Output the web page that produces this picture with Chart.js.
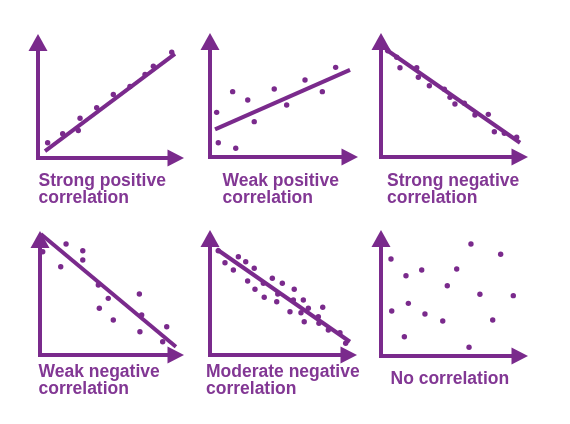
<!DOCTYPE html>
<html>
<head>
<meta charset="utf-8">
<script src="https://cdn.jsdelivr.net/npm/chart.js@4"></script>
<style>
  html, body { margin: 0; padding: 0; background: #fff; }
  #wrap { position: relative; width: 570px; height: 424px; overflow: hidden; background: #fff; }
  canvas { position: absolute; }
  .lbl { position: absolute; font-family: "Liberation Sans", Arial, sans-serif; font-weight: bold;
         font-size: 17.5px; line-height: 17px; color: rgb(130,55,148); white-space: nowrap; }
</style>
</head>
<body>
<div id="wrap"></div>
<script>
// ---- Data (each panel on a 0–10 by 0–10 scale) ----
const titles = [
  ["Strong positive", "correlation"],
  ["Weak positive", "correlation"],
  ["Strong negative", "correlation"],
  ["Weak negative", "correlation"],
  ["Moderate negative", "correlation"],
  ["No correlation"]
];

const strongPosX = [0.66, 1.69, 2.76, 2.88, 4.02, 5.16, 6.30, 7.33, 7.90, 9.16];
const strongPosY = [1.23, 1.95, 2.22, 3.21, 4.05, 5.12, 5.77, 6.73, 7.40, 8.53];
const strongPosLine = [[0.48, 0.55], [9.38, 8.40]];

const weakPosX = [0.45, 1.53, 2.55, 2.99, 0.56, 1.74, 4.34, 5.18, 6.42, 7.59, 8.49];
const weakPosY = [3.60, 5.27, 4.60, 2.85, 1.15, 0.70, 5.48, 4.19, 6.21, 5.27, 7.23];
const weakPosLine = [[0.34, 2.23], [9.46, 7.02]];

const strongNegX = [0.46, 1.07, 1.29, 2.43, 2.54, 3.29, 4.31, 4.69, 5.03, 5.67, 6.39, 7.30, 7.71, 8.39, 9.23];
const strongNegY = [8.57, 8.04, 7.20, 7.20, 6.43, 5.75, 5.46, 4.81, 4.27, 4.33, 3.39, 3.44, 2.04, 1.91, 1.59];
const strongNegLine = [[0.32, 8.69], [9.46, 1.15]];

const weakNegX = [0.19, 1.81, 2.97, 2.97, 1.44, 4.05, 4.74, 4.12, 5.09, 6.90, 7.06, 6.94, 8.80, 8.52];
const weakNegY = [8.33, 8.95, 8.41, 7.66, 7.12, 5.65, 4.57, 3.77, 2.82, 4.92, 3.23, 1.88, 2.28, 1.07];
const weakNegLine = [[0.05, 9.76], [9.44, 0.67]];

const modNegX = [0.56, 1.02, 1.59, 1.93, 2.43, 3.01, 2.56, 3.06, 3.63, 4.24, 4.92, 3.69, 4.61, 4.54,
                 5.73, 5.67, 6.35, 6.69, 5.44, 6.19, 6.41, 7.67, 7.37, 7.41, 8.05, 8.84, 9.23];
const modNegY = [8.34, 7.38, 6.80, 7.86, 7.46, 6.94, 5.92, 5.26, 5.74, 6.14, 5.74, 4.62, 4.88, 4.26,
                 5.26, 4.40, 4.40, 3.74, 3.46, 3.38, 2.66, 3.82, 3.06, 2.54, 2.00, 1.78, 0.94];
const modNegLine = [[0.46, 8.46], [9.52, 1.06]];

const noCorrX = [0.68, 6.12, 8.14, 1.70, 2.77, 5.15, 4.51, 6.73, 9.00, 0.73, 1.86, 2.99, 4.20, 7.60, 1.59, 5.99];
const noCorrY = [7.70, 8.89, 8.07, 6.37, 6.83, 6.90, 5.58, 4.90, 4.79, 3.57, 4.18, 3.33, 2.78, 2.86, 1.53, 0.69];
const noCorrLine = null;

const seriesX = [strongPosX, weakPosX, strongNegX, weakNegX, modNegX, noCorrX];
const seriesY = [strongPosY, weakPosY, strongNegY, weakNegY, modNegY, noCorrY];
const trendLines = [strongPosLine, weakPosLine, strongNegLine, weakNegLine, modNegLine, noCorrLine];

// ---- Layout (axis origin, arrow tips, label position) ----
const panels = [
  { ox: 38,  oy: 157.5, tx: 184, ty: 33.5, lx: 38.5,  ly: 171.5 },
  { ox: 210, oy: 157,   tx: 358, ty: 33,   lx: 222.5, ly: 171.5 },
  { ox: 381, oy: 157,   tx: 528, ty: 33,   lx: 387,   ly: 171.5 },
  { ox: 40,  oy: 355,   tx: 184, ty: 231,  lx: 38.5,  ly: 363 },
  { ox: 210, oy: 355,   tx: 357, ty: 230,  lx: 206,   ly: 363 },
  { ox: 381, oy: 356,   tx: 528, ty: 230,  lx: 390.5, ly: 369.5 }
];

const PURPLE = 'rgb(122,42,140)';
const PAD = 14;

const axesPlugin = {
  id: 'arrowAxes',
  beforeDatasetsDraw(chart) {
    const { ctx, chartArea: a } = chart;
    const L = a.left, B = a.bottom, T = a.top, R = a.right;
    ctx.save();
    ctx.strokeStyle = PURPLE;
    ctx.fillStyle = PURPLE;
    ctx.lineWidth = 4;
    ctx.lineJoin = 'miter';
    ctx.beginPath();
    ctx.moveTo(L, T + 14);
    ctx.lineTo(L, B);
    ctx.lineTo(R - 14, B);
    ctx.stroke();
    // up arrow
    ctx.beginPath();
    ctx.moveTo(L, T);
    ctx.lineTo(L + 9.5, T + 17);
    ctx.lineTo(L - 9.5, T + 17);
    ctx.closePath();
    ctx.fill();
    // right arrow
    ctx.beginPath();
    ctx.moveTo(R, B);
    ctx.lineTo(R - 16.5, B - 8.5);
    ctx.lineTo(R - 16.5, B + 8.5);
    ctx.closePath();
    ctx.fill();
    ctx.restore();
  }
};

const wrap = document.getElementById('wrap');

panels.forEach((p, i) => {
  const w = p.tx - p.ox, h = p.oy - p.ty;
  const cv = document.createElement('canvas');
  cv.width = Math.round(w + 2 * PAD);
  cv.height = Math.round(h + 2 * PAD);
  cv.style.left = (p.ox - PAD) + 'px';
  cv.style.top = (p.ty - PAD) + 'px';
  cv.style.width = cv.width + 'px';
  cv.style.height = cv.height + 'px';
  wrap.appendChild(cv);

  const pts = seriesX[i].map((x, k) => ({ x, y: seriesY[i][k] }));
  const datasets = [{
    type: 'scatter',
    data: pts,
    pointRadius: 2.7,
    pointBackgroundColor: PURPLE,
    pointBorderWidth: 0,
    clip: false
  }];
  if (trendLines[i]) {
    datasets.push({
      type: 'line',
      data: trendLines[i].map(([x, y]) => ({ x, y })),
      borderColor: PURPLE,
      borderWidth: 4,
      pointRadius: 0,
      fill: false,
      clip: false
    });
  }

  new Chart(cv, {
    type: 'scatter',
    data: { datasets },
    options: {
      responsive: false,
      animation: false,
      devicePixelRatio: 1,
      layout: { padding: PAD },
      plugins: { legend: { display: false }, tooltip: { enabled: false } },
      events: [],
      scales: {
        x: { type: 'linear', min: 0, max: 10, display: false },
        y: { type: 'linear', min: 0, max: 10, display: false }
      }
    },
    plugins: [axesPlugin]
  });

  const lbl = document.createElement('div');
  lbl.className = 'lbl';
  lbl.style.left = p.lx + 'px';
  lbl.style.top = p.ly + 'px';
  lbl.innerHTML = titles[i].join('<br>');
  wrap.appendChild(lbl);
});
</script>
</body>
</html>
